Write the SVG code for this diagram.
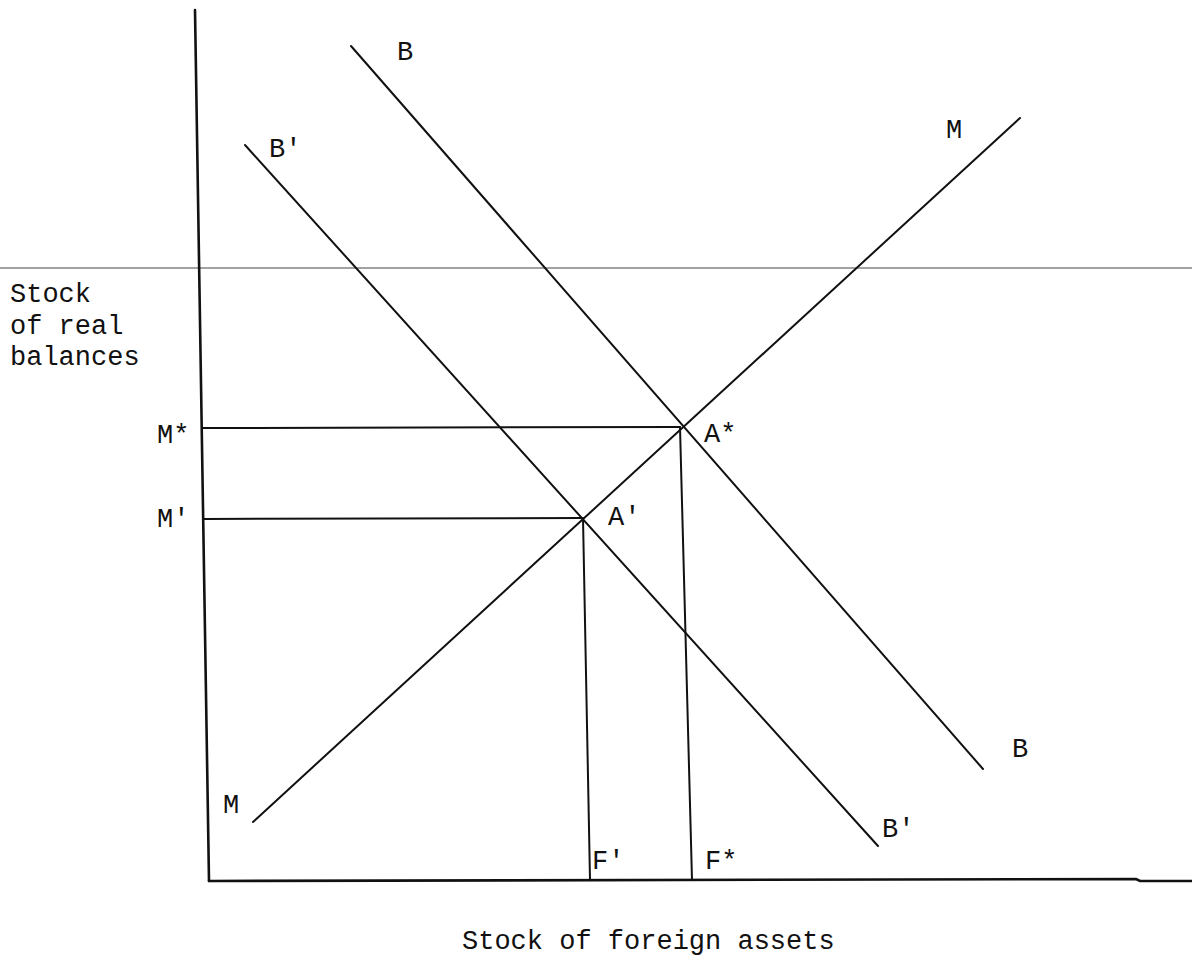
<svg xmlns="http://www.w3.org/2000/svg" width="1192" height="959" viewBox="0 0 1192 959">
<style>
.ax{stroke:#111;stroke-width:2.6;fill:none;stroke-linecap:round}
.ln{stroke:#111;stroke-width:2;fill:none;stroke-linecap:round}
.thin{stroke:#444;stroke-width:1;fill:none}
text{font-family:"Liberation Mono","Courier New",monospace;font-size:27px;fill:#111}
</style>
<rect width="1192" height="959" fill="#fff"/>
<g id="connectors">
<line class="thin" x1="0" y1="268" x2="1192" y2="268"/>
<polyline class="ax" points="195,10 209,881"/>
<polyline class="ax" points="209,881 1136,879 1140,881 1192,881"/>
<line class="ln" x1="351" y1="46" x2="983" y2="769"/>
<line class="ln" x1="245" y1="145" x2="878" y2="846"/>
<line class="ln" x1="253" y1="822" x2="1020" y2="118"/>
<line class="ln" x1="203" y1="428" x2="680" y2="427"/>
<line class="ln" x1="204" y1="519" x2="582" y2="518"/>
<line class="ln" x1="583" y1="518" x2="590" y2="880"/>
<line class="ln" x1="680" y1="427" x2="692" y2="880"/>
</g>
<g id="ylabel"><text x="10" y="302">Stock</text><text x="10" y="334">of real</text><text x="10" y="365">balances</text></g>
<g id="xlabel"><text x="462" y="949">Stock of foreign assets</text></g>
<g id="B-top"><text x="397" y="60">B</text></g>
<g id="Bp-top"><text x="269" y="157">B'</text></g>
<g id="M-top"><text x="946" y="138">M</text></g>
<g id="Mstar"><text x="157" y="443">M*</text></g>
<g id="Mprime"><text x="157" y="527">M'</text></g>
<g id="Astar"><text x="704" y="442">A*</text></g>
<g id="Aprime"><text x="608" y="525">A'</text></g>
<g id="M-bottom"><text x="223" y="813">M</text></g>
<g id="Fprime"><text x="592" y="869">F'</text></g>
<g id="Fstar"><text x="705" y="869">F*</text></g>
<g id="B-right"><text x="1012" y="757">B</text></g>
<g id="Bp-bottom"><text x="882" y="837">B'</text></g>
</svg>
